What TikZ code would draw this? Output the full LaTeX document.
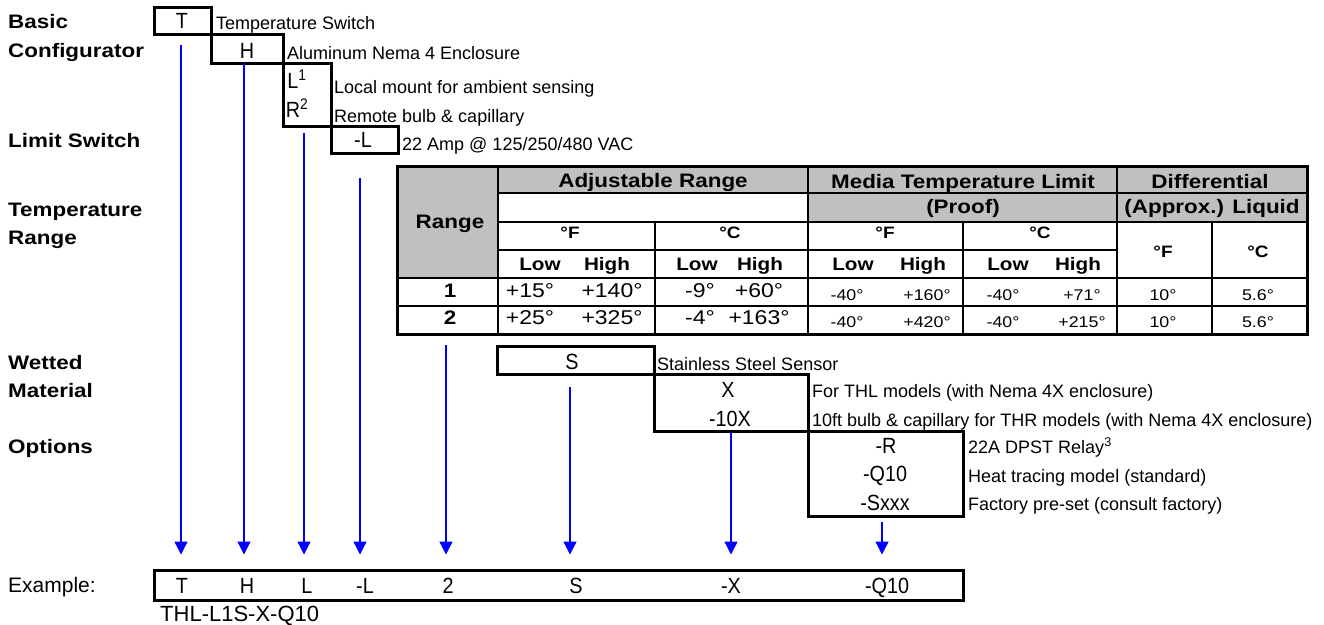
\documentclass[tikz,border=0pt]{standalone}
\usepackage{fontspec}
\setmainfont{Liberation Sans}
\newfontfamily\widefont[FakeStretch=1.15]{Liberation Sans}
\newfontfamily\condfont[FakeStretch=0.9]{Liberation Sans}
\usetikzlibrary{arrows.meta}
\definecolor{cellgray}{RGB}{192,192,192}
\definecolor{arrowblue}{RGB}{0,0,255}
\newcommand{\fs}[1]{\fontsize{#1}{#1}\selectfont}

\begin{document}
\begin{tikzpicture}[x=1pt,y=-1pt,
  lbl/.style={anchor=base west,inner sep=0,font={\widefont\bfseries\fs{19.5}}},
  desc/.style={anchor=base west,inner sep=0,font={\fs{18}}},
  code/.style={anchor=base,inner sep=0,font={\condfont\fs{22}}},
  hd/.style={anchor=base,inner sep=0,font={\widefont\bfseries\fs{19.5}}},
  unit/.style={anchor=base,inner sep=0,font={\widefont\bfseries\fs{16.5}}},
  sub/.style={anchor=base,inner sep=0,font={\widefont\bfseries\fs{18}}},
  val/.style={anchor=base,inner sep=0,font={\widefont\fs{20}}},
  sval/.style={anchor=base,inner sep=0,font={\widefont\fs{15.5}}},
  box/.style={line width=3pt},
  grid/.style={line width=2.5pt},
  arr/.style={draw=arrowblue,line width=1.3pt,shorten >=14pt,-{Triangle[length=13pt,width=13pt]}}
]
\useasboundingbox (0,0) rectangle (1324,624);

\node[lbl] (basic) at (8,28) {Basic};
\node[lbl] (config) at (8,57) {Configurator};
\node[lbl] (limit) at (8,147) {Limit Switch};
\node[lbl] (temp) at (8,216) {Temperature};
\node[lbl] (range) at (8,244) {Range};
\node[lbl] (wetted) at (8,369) {Wetted};
\node[lbl] (material) at (8,397) {Material};
\node[lbl] (options) at (8,453) {Options};

\draw[box] (154,7) rectangle (211,34);
\draw[box] (211,34) rectangle (283,63);
\draw[box] (283,63) rectangle (331,126);
\draw[box] (331,126) rectangle (398,153);
\draw[box] (497,346) rectangle (654,374);
\draw[box] (654,374) rectangle (808,431);
\draw[box] (808,431) rectangle (963,516);

\node[code] (cT) at (182,28) {T};
\node[code] (cH) at (247,58) {H};
\node[code] (cL) at (297,88) {L\textsuperscript{1}};
\node[code] (cR) at (297,117) {R\textsuperscript{2}};
\node[code] (cLim) at (363,147) {-L};
\node[code] (cS) at (572,369) {S};
\node[code] (cX) at (728,397) {X};
\node[code] (c10X) at (730,426) {-10X};
\node[code] (cRel) at (886,453) {-R};
\node[code] (cQ) at (885,481) {-Q10};
\node[code] (cSxxx) at (885,510) {-Sxxx};

\node[desc] (dT) at (216,29) {Temperature Switch};
\node[desc] (dH) at (287,59) {Aluminum Nema 4 Enclosure};
\node[desc] (dL) at (334,93) {Local mount for ambient sensing};
\node[desc] (dR) at (334,122) {Remote bulb \& capillary};
\node[desc] (dLim) at (402,150) {22 Amp @ 125/250/480 VAC};
\node[desc] (dS) at (657,370) {Stainless Steel Sensor};
\node[desc] (dX) at (812,397) {For THL models (with Nema 4X enclosure)};
\node[desc] (d10X) at (812,426) {10ft bulb \& capillary for THR models (with Nema 4X enclosure)};
\node[desc] (dRel) at (968,453) {22A DPST Relay\textsuperscript{3}};
\node[desc] (dQ) at (968,482) {Heat tracing model (standard)};
\node[desc] (dSxxx) at (968,510) {Factory pre-set (consult factory)};

\fill[cellgray] (397,166) rectangle (498,278);
\fill[cellgray] (498,166) rectangle (808,193);
\fill[cellgray] (808,166) rectangle (1307,222);
\foreach \y/\xa/\xb in {193/498/1307,222/498/1307,250/498/1117,278/397/1307,306/397/1307}{
  \draw[grid] (\xa,\y)--(\xb,\y);
}
\foreach \x/\ya in {498/166,808/166,1117/166,655/222,963/222,1212/222}{
  \draw[grid] (\x,\ya)--(\x,334);
}
\draw[box] (397,166) rectangle (1307,334);

\node[hd] (hRange) at (450,228) {Range};
\node[hd] (hAdj) at (653,187) {Adjustable Range};
\node[hd] (hMedia) at (963,188) {Media Temperature Limit};
\node[hd] (hProof) at (963,213) {(Proof)};
\node[hd] (hDiff) at (1210,188) {Differential};
\node[hd] (hApprox) at (1212,213) {(Approx.) Liquid};
\foreach \n/\x/\y/\t in {1/570/238/°F,2/730/238/°C,3/885/238/°F,4/1040/238/°C,5/1163/257/°F,6/1258/257/°C}{
  \node[unit] (u\n) at (\x,\y) {\t};
}
\foreach \n/\x/\t in {1/540/Low,2/607/High,3/697/Low,4/760/High,5/853/Low,6/923/High,7/1008/Low,8/1078/High}{
  \node[sub] (lh\n) at (\x,270) {\t};
}
\foreach \r/\y/\a/\b/\c/\d/\e/\f in {1/297/+15°/+140°/-9°/+60°/+160°/+71°,2/324/+25°/+325°/-4°/+163°/+420°/+215°}{
  \node[hd] (row\r) at (450,\y) {\r};
  \node[val] (row\r a) at (530,\y) {\a};
  \node[val] (row\r b) at (612,\y) {\b};
  \node[val] (row\r c) at (700,\y) {\c};
  \node[val] (row\r d) at (759,\y) {\d};
  \node[sval] (row\r e) at (847,\y+3) {-40°};
  \node[sval] (row\r f) at (927,\y+3) {\e};
  \node[sval] (row\r g) at (1003,\y+3) {-40°};
  \node[sval] (row\r h) at (1082,\y+3) {\f};
  \node[sval] (row\r i) at (1163,\y+3) {10°};
  \node[sval] (row\r j) at (1258,\y+3) {5.6°};
}

\node[anchor=base west,inner sep=0,font={\fs{21}}] (example) at (8,592) {Example:};
\node[draw,box,minimum width=809pt,minimum height=30pt,inner sep=0] (exbox) at (558.5,585) {};
\foreach \n/\x/\t in {1/182/T,2/247/H,3/307/L,4/365/-L,5/448/2,6/576/S,7/731/-X,8/887/-Q10}{
  \node[code] (ex\n) at (\x,593) {\t};
}
\node[anchor=base west,inner sep=0,font={\fs{22}}] (model) at (160,621) {THL-L1S-X-Q10};

\foreach \n/\x/\y in {1/181/45,2/244/63,3/304/133,4/360/178,5/446/345,6/570/387,7/731/433,8/882/522}{
  \coordinate (src\n) at (\x,\y);
  \draw[arr] (src\n) -- (src\n |- exbox.north);
}
\end{tikzpicture}
\end{document}
